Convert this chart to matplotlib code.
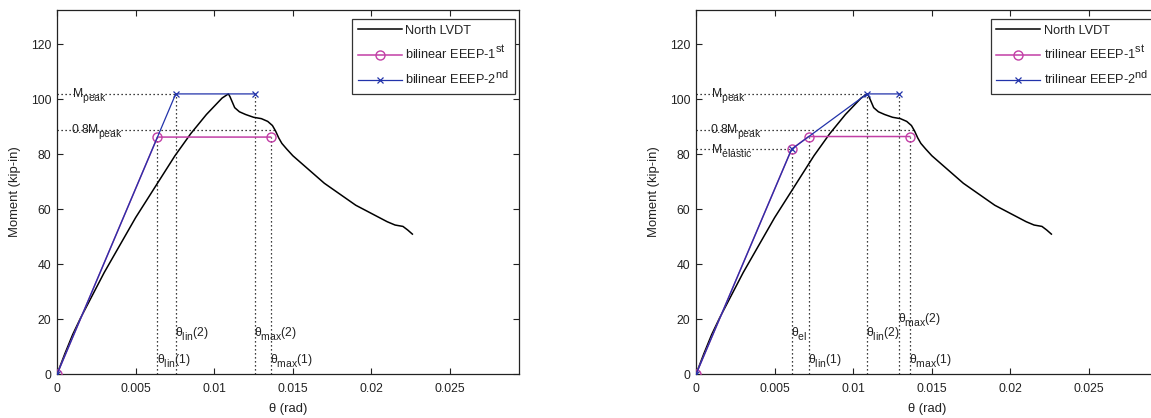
import matplotlib
matplotlib.use("Agg")
import matplotlib.pyplot as plt
import numpy as np

try:
    import matplotlib._mathtext as _mt
    _mt.SHRINK_FACTOR = 0.86
    _mt.FontConstantsBase.sub1 = 0.6
    _mt.FontConstantsBase.sub2 = 0.75
    _mt.FontConstantsBase.sup1 = 0.85
except Exception:
    pass

# ---------------- data ----------------
theta_north = np.array([0, 0.5, 1.0, 1.5, 2.0, 2.5, 3.0, 3.5, 4.0, 4.5, 5.0, 5.5, 6.0, 6.5,
                        7.0, 7.5, 8.0, 8.5, 9.0, 9.5, 10.0, 10.5, 10.9, 11.0, 11.15, 11.3,
                        11.6, 12.0, 12.5, 13.0, 13.4, 13.7, 13.9, 14.1, 14.3, 14.6, 15.0,
                        15.5, 16.0, 16.5, 17.0, 17.5, 18.0, 18.5, 19.0, 19.5, 20.0, 20.5,
                        21.0, 21.5, 22.0, 22.3, 22.6]) * 1e-3
moment_north = np.array([0, 7.5, 14.5, 20.5, 26, 31.5, 37, 42, 47, 52, 57, 61.5, 66, 70.5,
                         75, 79.5, 83.5, 87.5, 91, 94.5, 97.5, 100.5, 102, 101, 99, 97,
                         95.5, 94.5, 93.5, 93, 92, 90.5, 88.5, 86, 84, 82, 79.5,
                         77, 74.5, 72, 69.5, 67.5, 65.5, 63.5, 61.5, 60, 58.5, 57,
                         55.5, 54.3, 53.8, 52.5, 51])

M_peak = 102.0
M_08 = 88.8
M_elastic = 81.9

# bilinear
bi1_theta = [0, 6.39e-3, 13.58e-3]
bi1_moment = [0, 86.3, 86.3]
bi2_theta = [0, 7.55e-3, 12.57e-3]
bi2_moment = [0, 102.0, 102.0]

# trilinear
tri1_theta = [0, 6.08e-3, 7.16e-3, 13.6e-3]
tri1_moment = [0, 81.9, 86.5, 86.5]
tri2_theta = [0, 6.08e-3, 10.87e-3, 12.9e-3]
tri2_moment = [0, 81.9, 102.0, 102.0]

theta_08_end = 13.9e-3

xticks = [0, 0.005, 0.01, 0.015, 0.02, 0.025]
xtick_labels = ['0', '0.005', '0.01', '0.015', '0.02', '0.025']
yticks = [0, 20, 40, 60, 80, 100, 120]

# ---------------- style ----------------
plt.rcParams['font.family'] = ['Liberation Sans', 'DejaVu Sans']
plt.rcParams['mathtext.fontset'] = 'custom'
plt.rcParams['mathtext.rm'] = 'Liberation Sans'
plt.rcParams['mathtext.it'] = 'Liberation Sans:italic'
plt.rcParams['mathtext.bf'] = 'Liberation Sans:bold'
FS = 8.7
FS_LAB = 9.4
FS_LEG = 9.2
TXT = '#222222'
MAG = '#c23fa6'
BLU = '#2233aa'
DOT = (0, (1, 2.2))

fig = plt.figure(figsize=(11.51, 4.18), dpi=100)
W, H = 1151, 418
ax_w = 462 / W
ax_h = 364.5 / H
ax_b = (H - 374.3) / H
ax1 = fig.add_axes([57 / W, ax_b, ax_w, ax_h])
ax2 = fig.add_axes([696 / W, ax_b, ax_w, ax_h])


def style(ax):
    ax.set_xlim(0, 1.3 * theta_north[-1])
    ax.set_ylim(0, 1.3 * M_peak)
    ax.set_xticks(xticks)
    ax.set_xticklabels(xtick_labels)
    ax.set_yticks(yticks)
    ax.tick_params(direction='in', top=True, right=True, length=4.5, width=0.8,
                   labelsize=FS, colors=TXT)
    ax.tick_params(axis='x', pad=6)
    ax.tick_params(axis='y', pad=4)
    for s in ax.spines.values():
        s.set_color('#222222')
        s.set_linewidth(0.9)
    ax.set_xlabel('θ (rad)', fontsize=FS_LAB, color=TXT, labelpad=6)
    ax.set_ylabel('Moment (kip-in)', fontsize=FS_LAB, color=TXT, labelpad=7)


def dotted(ax, xs, ys):
    ax.plot(xs, ys, color='black', linestyle=DOT, linewidth=0.9, zorder=1)


def label(ax, x, y, s):
    ax.text(x, y, s, fontsize=FS, color=TXT, ha='left', va='center', zorder=5)


for ax in (ax1, ax2):
    style(ax)
    ax.plot(theta_north, moment_north, color='black', linewidth=1.1, label='North LVDT', zorder=3)

# ---- left: bilinear ----
ax1.plot(bi1_theta, bi1_moment, color=MAG, marker='o', markersize=6.5, markerfacecolor='none',
         markeredgewidth=1.0, linewidth=1.1, label='bilinear EEEP-1$^{\\mathrm{st}}$', zorder=4)
ax1.plot(bi2_theta, bi2_moment, color=BLU, marker='x', markersize=4, markeredgewidth=0.9,
         linewidth=0.9, label='bilinear EEEP-2$^{\\mathrm{nd}}$', zorder=4)
dotted(ax1, [0, bi2_theta[1]], [M_peak, M_peak])
dotted(ax1, [0, theta_08_end], [M_08, M_08])
dotted(ax1, [bi1_theta[1]] * 2, [0, bi1_moment[1]])
dotted(ax1, [bi1_theta[2]] * 2, [0, bi1_moment[2]])
dotted(ax1, [bi2_theta[1]] * 2, [0, bi2_moment[1]])
dotted(ax1, [bi2_theta[2]] * 2, [0, bi2_moment[2]])
label(ax1, 0.00095, 101.5, r'$\mathrm{M}_{\mathrm{peak}}$')
label(ax1, 0.00090, 88.3, r'$\mathrm{0.8M}_{\mathrm{peak}}$')
label(ax1, bi2_theta[1] - 0.00005, 14.5, r'$\mathrm{θ}_{\mathrm{lin}}\mathrm{(2)}$')
label(ax1, bi2_theta[2] - 0.00005, 14.5, r'$\mathrm{θ}_{\mathrm{max}}\mathrm{(2)}$')
label(ax1, bi1_theta[1] - 0.00005, 4.7, r'$\mathrm{θ}_{\mathrm{lin}}\mathrm{(1)}$')
label(ax1, bi1_theta[2] - 0.00005, 4.7, r'$\mathrm{θ}_{\mathrm{max}}\mathrm{(1)}$')

# ---- right: trilinear ----
ax2.plot(tri1_theta, tri1_moment, color=MAG, marker='o', markersize=6.5, markerfacecolor='none',
         markeredgewidth=1.0, linewidth=1.1, label='trilinear EEEP-1$^{\\mathrm{st}}$', zorder=4)
ax2.plot(tri2_theta, tri2_moment, color=BLU, marker='x', markersize=4, markeredgewidth=0.9,
         linewidth=0.9, label='trilinear EEEP-2$^{\\mathrm{nd}}$', zorder=4)
dotted(ax2, [0, tri2_theta[2]], [M_peak, M_peak])
dotted(ax2, [0, theta_08_end], [M_08, M_08])
dotted(ax2, [0, tri1_theta[1]], [M_elastic, M_elastic])
dotted(ax2, [tri1_theta[1]] * 2, [0, tri1_moment[1]])
dotted(ax2, [tri1_theta[2]] * 2, [0, tri1_moment[2]])
dotted(ax2, [tri1_theta[3]] * 2, [0, tri1_moment[3]])
dotted(ax2, [tri2_theta[2]] * 2, [0, tri2_moment[2]])
dotted(ax2, [tri2_theta[3]] * 2, [0, tri2_moment[3]])
label(ax2, 0.00095, 101.5, r'$\mathrm{M}_{\mathrm{peak}}$')
label(ax2, 0.00090, 88.3, r'$\mathrm{0.8M}_{\mathrm{peak}}$')
label(ax2, 0.00095, 81.0, r'$\mathrm{M}_{\mathrm{elastic}}$')
label(ax2, tri1_theta[1] - 0.00005, 14.5, r'$\mathrm{θ}_{\mathrm{el}}$')
label(ax2, tri2_theta[2] - 0.00005, 14.5, r'$\mathrm{θ}_{\mathrm{lin}}\mathrm{(2)}$')
label(ax2, tri2_theta[3] - 0.00005, 19.5, r'$\mathrm{θ}_{\mathrm{max}}\mathrm{(2)}$')
label(ax2, tri1_theta[2] - 0.00005, 4.7, r'$\mathrm{θ}_{\mathrm{lin}}\mathrm{(1)}$')
label(ax2, tri1_theta[3] - 0.00005, 4.7, r'$\mathrm{θ}_{\mathrm{max}}\mathrm{(1)}$')

for ax in (ax1, ax2):
    leg = ax.legend(loc='upper right', bbox_to_anchor=(0.991, 0.975), borderaxespad=0,
                    fontsize=FS_LEG, handlelength=3.4, handletextpad=0.3, labelspacing=0.6,
                    borderpad=0.45, fancybox=False, framealpha=1, edgecolor='#333333')
    leg.get_frame().set_linewidth(0.9)
    for t in leg.get_texts():
        t.set_color(TXT)

fig.savefig('out.png', dpi=100)
